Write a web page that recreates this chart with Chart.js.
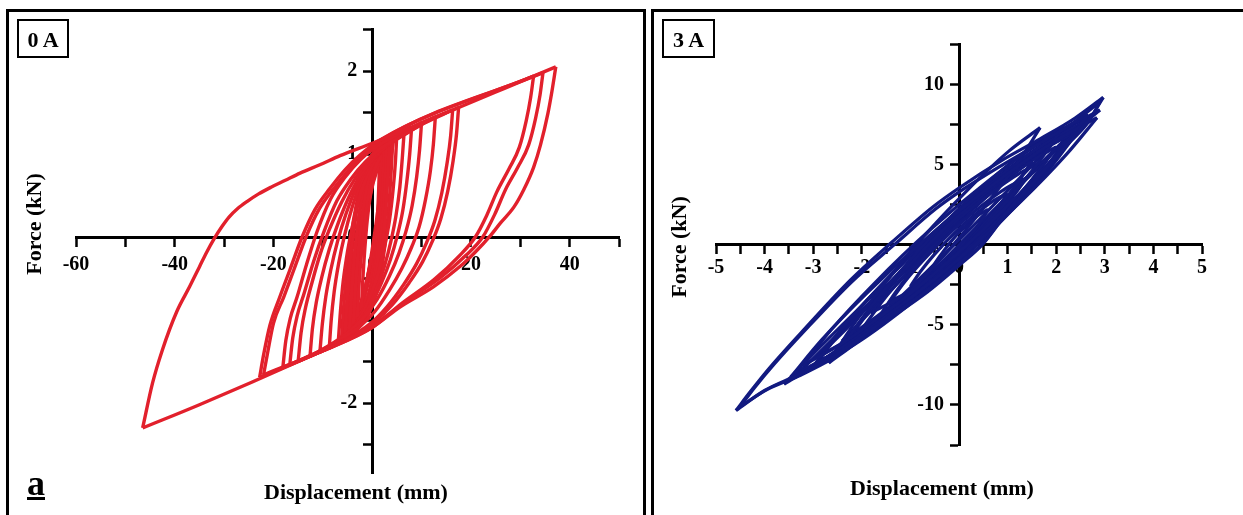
<!DOCTYPE html>
<html>
<head>
<meta charset="utf-8">
<script src="https://cdn.jsdelivr.net/npm/chart.js@4.4.1/dist/chart.umd.min.js"></script>
<style>
  body { margin: 0; background: #fff; }
  #page { position: relative; width: 1243px; height: 515px; overflow: hidden;
          font-family: "Liberation Serif", "Times New Roman", serif; font-weight: bold; color: #000; }
  .panel { position: absolute; border: 3px solid #000; box-sizing: border-box; }
  .tag { position: absolute; border: 2px solid #000; box-sizing: border-box; font-size: 22px;
         line-height: 35px; padding-top: 1px; text-align: center; }
  .xt { position: absolute; width: 300px; text-align: center; font-size: 22px; line-height: 22px; }
  .yt { position: absolute; width: 200px; height: 22px; text-align: center; font-size: 22px; line-height: 22px;
        transform: rotate(-90deg); }
  .letter { position: absolute; font-size: 36px; line-height: 36px; text-decoration: underline;
            text-decoration-thickness: 3px; }
  canvas { position: absolute; top: 0; }
</style>
</head>
<body>
<div id="page">
  <div class="panel" style="left:6px; top:9px; width:640px; height:530px;"></div>
  <div class="panel" style="left:651px; top:9px; width:600px; height:530px;"></div>

  <canvas id="chart0A" width="645" height="515" style="left:0;"></canvas>
  <canvas id="chart3A" width="591" height="515" style="left:652px;"></canvas>

  <div class="tag" style="left:17px; top:19px; width:52px; height:39px;">0 A</div>
  <div class="tag" style="left:662px; top:19px; width:53px; height:39px;">3 A</div>

  <div class="xt" style="left:206px; top:481px;">Displacement (mm)</div>
  <div class="xt" style="left:792px; top:477px;">Displacement (mm)</div>
  <div class="yt" style="left:-66px; top:213px;">Force (kN)</div>
  <div class="yt" style="left:579px; top:236px;">Force (kN)</div>

  <div class="letter" style="left:27px; top:465px;">a</div>
</div>

<script>
// ---- 0 A : displacement (mm), force (kN); each loop split into its two branches ----
const L1up = [[-46.5,-2.30],[-44.5,-1.76],[-42.5,-1.36],[-39.6,-0.90],[-37.0,-0.60],[-35.0,-0.36],[-33.5,-0.18],[-32.0,-0.02],[-30.5,0.12],[-29.0,0.24],[-27.3,0.34],[-25.3,0.43],[-23.0,0.52],[-20.5,0.60],[-17.7,0.68],[-14.6,0.77],[-10.6,0.87],[-6.5,0.98],[0,1.13],[37.2,2.05]];
const L1dn = [[37.2,2.05],[36.4,1.75],[35.6,1.49],[34.1,1.11],[32.7,0.84],[30.7,0.57],[28.7,0.36],[26.0,0.17],[24.0,0.02],[20.9,-0.18],[17.9,-0.35],[12.4,-0.60],[5.7,-0.84],[0.2,-1.08],[-14.6,-1.49],[-35.0,-2.02],[-46.5,-2.30]];
const L2up = [[-22.8,-1.69],[-22.0,-1.42],[-20.7,-1.06],[-18.7,-0.72],[-16.7,-0.40],[-14.2,0.0],[-11.6,0.33],[-8.5,0.59],[-5.5,0.81],[-2.4,0.99],[1.6,1.17],[34.6,1.98]];
const L2dn = [[34.6,1.98],[34.0,1.71],[33.1,1.43],[31.7,1.11],[29.5,0.84],[27.0,0.57],[24.8,0.27],[22.4,0.0],[19.0,-0.22],[13.8,-0.49],[6.7,-0.78],[0.2,-1.06],[-10.0,-1.37],[-22.8,-1.69]];
const L3up = [[-22.0,-1.66],[-21.2,-1.40],[-20.0,-1.04],[-17.9,-0.72],[-15.9,-0.40],[-13.4,0.0],[-10.8,0.33],[-7.7,0.59],[-4.7,0.81],[-1.6,1.0],[2.4,1.19],[32.7,1.94]];
const L3dn = [[32.7,1.94],[32.1,1.68],[31.2,1.40],[29.8,1.08],[27.7,0.82],[25.3,0.55],[23.2,0.26],[20.9,0.0],[17.6,-0.23],[12.6,-0.51],[6.0,-0.80],[0.0,-1.09],[-10.0,-1.37],[-22.0,-1.66]];
const L4up = [[-18.1,-1.57],[-17.5,-1.25],[-16.6,-0.98],[-15.2,-0.72],[-13.3,-0.33],[-11.2,0.06],[-8.5,0.45],[-5.5,0.72],[-2.4,0.93],[0.6,1.08],[4.7,1.22],[9.8,1.37],[17.5,1.56]];
const L4dn = [[17.5,1.56],[17.1,1.25],[16.4,0.92],[15.3,0.55],[13.9,0.22],[12.2,-0.05],[10.2,-0.30],[7.5,-0.55],[4.0,-0.82],[0.5,-1.02],[-4.0,-1.20],[-10.0,-1.37],[-18.1,-1.57]];
const L5up = [[-16.7,-1.54],[-16.1,-1.22],[-15.2,-0.95],[-13.8,-0.68],[-11.9,-0.30],[-9.8,0.06],[-7.2,0.43],[-4.3,0.70],[-1.3,0.91],[1.8,1.07],[5.8,1.21],[10.5,1.37],[16.3,1.53]];
const L5dn = [[16.3,1.53],[15.9,1.22],[15.2,0.90],[14.1,0.53],[12.7,0.20],[11.0,-0.07],[9.0,-0.32],[6.4,-0.57],[3.0,-0.84],[-0.5,-1.05],[-5.0,-1.22],[-10.0,-1.36],[-16.7,-1.54]];
const L6up = [[-15.0,-1.50],[-14.4,-1.15],[-13.5,-0.85],[-12.2,-0.55],[-10.5,-0.20],[-8.6,0.10],[-6.2,0.42],[-3.5,0.70],[-0.6,0.92],[2.8,1.09],[7.0,1.25],[12.8,1.45]];
const L6dn = [[12.8,1.45],[12.4,1.12],[11.8,0.80],[10.8,0.45],[9.5,0.12],[8.0,-0.12],[6.0,-0.38],[3.5,-0.64],[0.5,-0.90],[-3.0,-1.10],[-8.0,-1.29],[-15.0,-1.50]];
const L7up = [[-12.6,-1.44],[-12.1,-1.10],[-11.3,-0.78],[-10.2,-0.48],[-8.7,-0.15],[-7.0,0.15],[-4.8,0.47],[-2.3,0.75],[0.5,0.96],[4.0,1.15],[10.0,1.38]];
const L7dn = [[10.0,1.38],[9.6,1.05],[9.0,0.72],[8.1,0.38],[6.9,0.08],[5.4,-0.20],[3.5,-0.47],[1.0,-0.75],[-2.0,-0.99],[-6.0,-1.20],[-12.6,-1.44]];
const L8up = [[-10.6,-1.39],[-10.1,-1.05],[-9.4,-0.72],[-8.4,-0.40],[-7.0,-0.05],[-5.3,0.28],[-3.2,0.60],[-0.8,0.87],[2.2,1.08],[5.0,1.22],[8.0,1.33]];
const L8dn = [[8.0,1.33],[7.6,1.00],[7.0,0.66],[6.2,0.32],[5.1,0.02],[3.7,-0.27],[1.9,-0.55],[-0.4,-0.83],[-3.2,-1.06],[-6.8,-1.24],[-10.6,-1.39]];
const L9up = [[-8.7,-1.34],[-8.3,-1.00],[-7.7,-0.66],[-6.8,-0.32],[-5.6,0.02],[-4.1,0.35],[-2.2,0.67],[0.1,0.92],[3.0,1.12],[6.5,1.29]];
const L9dn = [[6.5,1.29],[6.1,0.95],[5.6,0.60],[4.8,0.25],[3.8,-0.05],[2.5,-0.35],[0.8,-0.64],[-1.4,-0.92],[-4.2,-1.14],[-8.7,-1.34]];
const L10up = [[-6.9,-1.29],[-6.5,-0.95],[-6.0,-0.60],[-5.2,-0.25],[-4.1,0.10],[-2.7,0.45],[-0.9,0.76],[1.5,1.02],[5.0,1.25]];
const L10dn = [[5.0,1.25],[4.7,0.90],[4.2,0.55],[3.5,0.20],[2.5,-0.12],[1.2,-0.44],[-0.5,-0.74],[-2.9,-1.02],[-6.9,-1.29]];
// small cycles that fill the dense core
const S1up = [[-5.5,-1.17],[-5.2,-0.85],[-4.8,-0.50],[-4.3,-0.15],[-3.6,0.20],[-2.6,0.55],[-1.2,0.85],[1.0,1.08],[3.5,1.20]];
const S1dn = [[3.5,1.20],[3.3,0.90],[3.0,0.55],[2.5,0.15],[1.8,-0.25],[0.7,-0.62],[-1.0,-0.90],[-3.2,-1.08],[-5.5,-1.17]];
const S2up = [[-4.6,-1.12],[-4.3,-0.80],[-3.9,-0.45],[-3.4,-0.10],[-2.7,0.25],[-1.8,0.58],[-0.5,0.86],[1.2,1.04],[3.0,1.15]];
const S2dn = [[3.0,1.15],[2.8,0.85],[2.5,0.50],[2.0,0.12],[1.3,-0.25],[0.3,-0.60],[-1.2,-0.88],[-3.0,-1.03],[-4.6,-1.12]];
const S3up = [[-3.8,-1.05],[-3.5,-0.72],[-3.1,-0.38],[-2.6,-0.03],[-1.9,0.32],[-1.0,0.63],[0.2,0.88],[2.5,1.08]];
const S3dn = [[2.5,1.08],[2.3,0.78],[2.0,0.42],[1.5,0.05],[0.8,-0.32],[-0.2,-0.65],[-1.6,-0.90],[-3.8,-1.05]];
const S4up = [[-3.0,-0.97],[-2.7,-0.62],[-2.3,-0.28],[-1.8,0.07],[-1.1,0.40],[-0.2,0.70],[2.0,1.00]];
const S4dn = [[2.0,1.00],[1.8,0.68],[1.5,0.30],[1.0,-0.08],[0.3,-0.45],[-0.8,-0.76],[-3.0,-0.97]];
const S5up = [[-2.2,-0.88],[-1.9,-0.52],[-1.5,-0.15],[-1.0,0.20],[-0.3,0.52],[1.5,0.90]];
const S5dn = [[1.5,0.90],[1.3,0.55],[1.0,0.18],[0.5,-0.20],[-0.2,-0.55],[-2.2,-0.88]];
const S6up = [[-6.2,-1.22],[-5.85,-0.90],[-5.35,-0.55],[-4.7,-0.18],[-3.8,0.20],[-2.6,0.55],[-1.0,0.86],[1.3,1.08],[4.2,1.22]];
const S6dn = [[4.2,1.22],[3.95,0.90],[3.6,0.55],[3.05,0.15],[2.2,-0.27],[1.0,-0.64],[-0.8,-0.94],[-3.4,-1.13],[-6.2,-1.22]];
const S7up = [[-5.0,-1.14],[-4.75,-0.80],[-4.4,-0.42],[-3.9,-0.05],[-3.2,0.30],[-2.2,0.62],[-0.8,0.90],[1.2,1.08],[3.3,1.17]];
const S7dn = [[3.3,1.17],[3.1,0.85],[2.8,0.48],[2.3,0.08],[1.6,-0.30],[0.5,-0.66],[-1.1,-0.93],[-3.1,-1.08],[-5.0,-1.14]];
const S8up = [[-4.2,-1.08],[-3.95,-0.72],[-3.6,-0.36],[-3.1,0.0],[-2.4,0.35],[-1.4,0.66],[0.0,0.92],[2.8,1.12]];
const S8dn = [[2.8,1.12],[2.6,0.80],[2.3,0.42],[1.8,0.04],[1.1,-0.34],[0.1,-0.67],[-1.5,-0.93],[-4.2,-1.08]];
const S9up = [[-3.4,-1.00],[-3.1,-0.65],[-2.7,-0.30],[-2.2,0.05],[-1.5,0.38],[-0.6,0.68],[2.2,1.04]];
const S9dn = [[2.2,1.04],[2.0,0.72],[1.7,0.34],[1.2,-0.04],[0.5,-0.42],[-0.6,-0.74],[-3.4,-1.00]];
const N1up = [[-5.2,-1.15],[-4.6,-0.80],[-3.7,-0.40],[-2.6,0.0],[-1.3,0.40],[0.3,0.78],[2.0,1.03],[3.8,1.18]];
const N1dn = [[3.8,1.18],[3.2,0.90],[2.3,0.55],[1.2,0.15],[-0.1,-0.25],[-1.6,-0.65],[-3.3,-0.97],[-5.2,-1.15]];
const N2up = [[-4.4,-1.10],[-3.8,-0.72],[-2.9,-0.30],[-1.8,0.12],[-0.6,0.50],[0.8,0.85],[3.2,1.13]];
const N2dn = [[3.2,1.13],[2.6,0.82],[1.7,0.42],[0.6,0.0],[-0.7,-0.42],[-2.3,-0.82],[-4.4,-1.10]];
const N3up = [[-3.6,-1.03],[-3.0,-0.60],[-2.1,-0.15],[-1.0,0.30],[0.3,0.70],[2.6,1.08]];
const N3dn = [[2.6,1.08],[2.0,0.72],[1.1,0.30],[0.0,-0.15],[-1.4,-0.62],[-3.6,-1.03]];
const N4up = [[-6.0,-1.20],[-5.2,-0.85],[-4.1,-0.42],[-2.8,0.02],[-1.3,0.45],[0.6,0.84],[2.6,1.08],[4.4,1.20]];
const N4dn = [[4.4,1.20],[3.7,0.92],[2.7,0.52],[1.5,0.10],[0.0,-0.35],[-1.8,-0.77],[-3.9,-1.07],[-6.0,-1.20]];

// ---- 3 A ----
const R1up = [[-4.59,-10.35],[-4.3,-9.2],[-3.9,-7.7],[-3.25,-5.5],[-2.23,-2.2],[-1.39,0.13],[-0.52,2.4],[0.03,3.6],[0.85,5.2],[1.67,6.6],[2.39,7.9],[2.97,9.19]];
const R1dn = [[2.97,9.19],[2.7,7.9],[2.35,6.7],[1.67,4.35],[1.0,2.1],[0.5,0.1],[0.03,-1.13],[-0.6,-2.75],[-1.55,-4.75],[-2.58,-6.95],[-3.3,-8.1],[-4.0,-9.1],[-4.59,-10.35]];
const R2up = [[-4.5,-10.1],[-4.2,-8.9],[-3.8,-7.45],[-3.2,-5.45],[-2.2,-2.3],[-1.33,0.0],[-0.47,2.25],[0.06,3.4],[0.88,4.95],[1.7,6.4],[2.35,7.6],[2.9,8.9]];
const R2dn = [[2.9,8.9],[2.65,7.6],[2.3,6.45],[1.65,4.2],[0.98,1.95],[0.48,0.0],[0.0,-1.3],[-0.65,-2.95],[-1.6,-4.95],[-2.6,-7.1],[-3.3,-8.2],[-3.95,-9.05],[-4.5,-10.1]];
const B1up = [[-3.46,-8.25],[-2.83,-5.96],[-1.89,-3.01],[-0.62,0.53],[0.64,3.61],[1.90,6.32],[2.84,7.92]];
const B1dn = [[2.84,7.92],[2.21,5.63],[1.27,2.68],[0.01,-0.86],[-1.26,-3.94],[-2.52,-6.65],[-3.46,-8.25]];
const B2up = [[-3.22,-7.55],[-2.63,-5.31],[-1.75,-2.44],[-0.57,0.99],[0.60,3.97],[1.78,6.58],[2.66,8.1]];
const B2dn = [[2.66,8.1],[2.07,5.86],[1.19,2.99],[0.01,-0.44],[-1.16,-3.42],[-2.34,-6.03],[-3.22,-7.55]];
const B3up = [[-2.68,-7.38],[-2.25,-5.33],[-1.59,-2.67],[-0.72,0.53],[0.15,3.33],[1.02,5.82],[1.67,7.3]];
const B3dn = [[1.67,7.3],[1.24,5.25],[0.58,2.59],[-0.29,-0.61],[-1.16,-3.41],[-2.03,-5.90],[-2.68,-7.38]];
const B4up = [[-2.45,-6.6],[-1.99,-4.57],[-1.30,-1.99],[-0.38,1.09],[0.54,3.75],[1.46,6.05],[2.15,7.38]];
const B4dn = [[2.15,7.38],[1.69,5.35],[1.0,2.77],[0.08,-0.31],[-0.84,-2.97],[-1.76,-5.27],[-2.45,-6.6]];
const B5up = [[-3.0,-7.6],[-2.46,-5.41],[-1.64,-2.65],[-0.55,0.61],[0.54,3.40],[1.63,5.78],[2.45,7.1]];
const B5dn = [[2.45,7.1],[1.91,4.91],[1.09,2.15],[0.0,-1.11],[-1.09,-3.90],[-2.18,-6.28],[-3.0,-7.6]];
const B6up = [[-2.2,-5.6],[-1.75,-3.77],[-1.08,-1.44],[-0.18,1.33],[0.73,3.70],[1.63,5.74],[2.3,6.9]];
const B6dn = [[2.3,6.9],[1.85,5.07],[1.18,2.74],[0.28,-0.02],[-0.63,-2.40],[-1.53,-4.44],[-2.2,-5.6]];
const B7up = [[-1.82,-4.25],[-1.46,-2.80],[-0.91,-0.98],[-0.19,1.15],[0.54,2.95],[1.27,4.49],[1.81,5.31]];
const B7dn = [[1.81,5.31],[1.45,3.86],[0.90,2.04],[0.18,-0.09],[-0.55,-1.89],[-1.28,-3.42],[-1.82,-4.25]];
const B8up = [[-1.6,-4.3],[-1.29,-2.90],[-0.83,-1.13],[-0.21,0.97],[0.42,2.78],[1.04,4.33],[1.5,5.2]];
const B8dn = [[1.5,5.2],[1.19,3.80],[0.73,2.03],[0.11,-0.07],[-0.52,-1.88],[-1.14,-3.43],[-1.6,-4.3]];
const B9up = [[-1.4,-3.5],[-1.12,-2.33],[-0.70,-0.86],[-0.14,0.86],[0.42,2.32],[0.98,3.54],[1.4,4.2]];
const B9dn = [[1.4,4.2],[1.12,3.03],[0.70,1.56],[0.14,-0.16],[-0.42,-1.62],[-0.98,-2.85],[-1.4,-3.5]];
const B10up = [[-1.0,-2.6],[-0.8,-1.71],[-0.5,-0.59],[-0.1,0.71],[0.3,1.80],[0.7,2.72],[1.0,3.2]];
const B10dn = [[1.0,3.2],[0.8,2.31],[0.5,1.19],[0.1,-0.11],[-0.3,-1.20],[-0.7,-2.12],[-1.0,-2.6]];
const B11up = [[-0.6,-1.7],[-0.48,-1.09],[-0.3,-0.33],[-0.06,0.56],[0.18,1.29],[0.42,1.89],[0.6,2.2]];
const B11dn = [[0.6,2.2],[0.48,1.59],[0.3,0.83],[0.06,-0.05],[-0.18,-0.79],[-0.42,-1.39],[-0.6,-1.7]];
const B12up = [[-2.0,-5.3],[-1.6,-3.62],[-1.0,-1.49],[-0.2,1.03],[0.6,3.19],[1.4,5.05],[2.0,6.1]];
const B12dn = [[2.0,6.1],[1.6,4.42],[1.0,2.29],[0.2,-0.23],[-0.6,-2.39],[-1.4,-4.25],[-2.0,-5.3]];
const B13up = [[-2.9,-7.3],[-2.36,-5.11],[-1.54,-2.34],[-0.45,0.95],[0.64,3.79],[1.73,6.22],[2.55,7.6]];
const B13dn = [[2.55,7.6],[2.01,5.41],[1.19,2.64],[0.10,-0.65],[-0.99,-3.49],[-2.08,-5.92],[-2.9,-7.3]];
const Q1up = [[-3.3,-8.0],[-2.5,-5.6],[-1.6,-2.9],[-0.7,-0.1],[0.3,2.8],[1.4,5.5],[2.7,7.9]];
const Q1dn = [[2.7,7.9],[1.9,5.6],[1.0,2.9],[0.1,0.0],[-0.9,-2.9],[-2.0,-5.7],[-3.3,-8.0]];
const Q2up = [[-2.9,-7.0],[-2.2,-4.9],[-1.4,-2.4],[-0.5,0.3],[0.5,3.0],[1.5,5.4],[2.5,7.5]];
const Q2dn = [[2.5,7.5],[1.8,5.4],[0.9,2.7],[0.0,-0.1],[-0.9,-2.8],[-1.9,-5.2],[-2.9,-7.0]];
const Q3up = [[-2.4,-6.0],[-1.8,-4.1],[-1.0,-1.6],[-0.1,1.1],[0.8,3.6],[1.9,6.2]];
const Q3dn = [[1.9,6.2],[1.2,4.0],[0.4,1.5],[-0.5,-1.2],[-1.4,-3.8],[-2.4,-6.0]];
const Q4up = [[-3.6,-8.7],[-2.9,-6.5],[-2.0,-3.8],[-1.1,-1.0],[-0.1,1.9],[1.0,4.7],[2.2,7.2],[2.9,8.4]];
const Q4dn = [[2.9,8.4],[2.2,6.6],[1.3,3.9],[0.3,0.9],[-0.7,-2.1],[-1.8,-4.9],[-2.9,-7.4],[-3.6,-8.7]];

const branches0A = [L1up, L1dn, L2up, L2dn, L3up, L3dn, L4up, L4dn, L5up, L5dn, L6up, L6dn,
  L7up, L7dn, L8up, L8dn, L9up, L9dn, L10up, L10dn,
  S1up, S1dn, S2up, S2dn, S3up, S3dn, S4up, S4dn, S5up, S5dn,
  S6up, S6dn, S7up, S7dn, S8up, S8dn, S9up, S9dn,
  N1up, N1dn, N2up, N2dn, N3up, N3dn, N4up, N4dn];
const branches3A = [R1up, R1dn, R2up, R2dn, B1up, B1dn, B2up, B2dn, B3up, B3dn, B4up, B4dn,
  B5up, B5dn, B6up, B6dn, B7up, B7dn, B8up, B8dn, B9up, B9dn, B10up, B10dn,
  B11up, B11dn, B12up, B12dn, B13up, B13dn, Q1up, Q1dn, Q2up, Q2dn, Q3up, Q3dn, Q4up, Q4dn];

// axis ranges: [min, max, step, labelled every]
const xAxis0A = [-60, 50, 10, 20];
const yAxis0A = [-2.85, 2.5, 0.5, 1];
const xAxis3A = [-5, 5, 0.5, 1];
const yAxis3A = [-12.5, 12.5, 2.5, 5];

const tickFont = { family: 'Liberation Serif', size: 20, weight: 'bold' };

const onStep = (v, every) => Math.abs(v / every - Math.round(v / every)) < 1e-6;

function scaleOpts(range, cross, labelPad, isY) {
  return {
    type: 'linear',
    min: range[0],
    max: range[1],
    position: cross,
    grid: { drawOnChartArea: false, drawTicks: true, tickLength: 8, tickWidth: 2.5, tickColor: '#000' },
    border: { display: true, color: '#000', width: 3 },
    ticks: {
      stepSize: range[2],
      includeBounds: false,
      autoSkip: false,
      maxRotation: 0,
      padding: labelPad,
      color: '#000',
      font: tickFont,
      // y labels sit right on the axis line, so push them left with spaces
      callback: v => onStep(v, range[3]) ? (isY ? String(v) + '   ' : String(v)) : ''
    }
  };
}

function buildChart(id, branches, color, lineWidth, xr, yr, xPad, padding) {
  const datasets = branches.map(b => ({
    data: b.map(p => ({ x: p[0], y: p[1] })),
    showLine: true,
    borderColor: color,
    borderWidth: lineWidth,
    pointRadius: 0,
    cubicInterpolationMode: 'monotone',
    fill: false
  }));

  return new Chart(document.getElementById(id), {
    type: 'scatter',
    data: { datasets },
    options: {
      responsive: false,
      animation: false,
      devicePixelRatio: 1,
      layout: { padding },
      plugins: { legend: { display: false }, tooltip: { enabled: false } },
      scales: {
        x: scaleOpts(xr, { y: 0 }, xPad, false),
        y: scaleOpts(yr, { x: 0 }, 0, true)
      }
    }
  });
}

buildChart('chart0A', branches0A, '#e2202c', 3.4, xAxis0A, yAxis0A, 7.5,
  { left: 76, right: 26, top: 29.5, bottom: 41.4 });
buildChart('chart3A', branches3A, '#121a80', 3.2, xAxis3A, yAxis3A, 3.5,
  { left: 64, right: 41, top: 44.3, bottom: 70 });
</script>
</body>
</html>
